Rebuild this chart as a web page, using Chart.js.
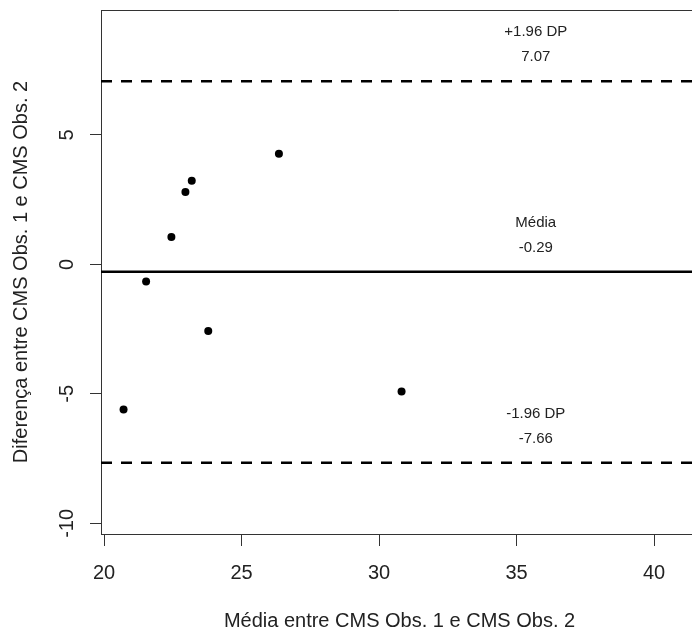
<!DOCTYPE html>
<html>
<head>
<meta charset="utf-8">
<script src="https://cdn.jsdelivr.net/npm/chart.js@4/dist/chart.umd.min.js"></script>
<style>
  html, body { margin: 0; padding: 0; background: #ffffff; overflow: hidden; }
  #wrap { width: 702px; height: 636px; }
</style>
</head>
<body>
<div id="wrap"><canvas id="c" width="702" height="636"></canvas></div>
<script>
// ---- data ----
const meanValues = [21.53, 22.45, 22.96, 23.19, 26.36, 23.79, 20.71, 30.82];
const diffValues = [-0.66, 1.06, 2.79, 3.23, 4.27, -2.57, -5.60, -4.91];
const limitNames = ['+1.96 DP', 'Média', '-1.96 DP'];
const limitValues = [7.07, -0.29, -7.66];
const limitTexts = ['7.07', '-0.29', '-7.66'];
const xTickValues = [20, 25, 30, 35, 40];
const yTickValues = [-10, -5, 0, 5];
const xRange = [19.89, 41.6];
const yRange = [-10.41, 9.82];
const labelX = 35.7;

const FONT = '"Liberation Sans", Arial, sans-serif';

const points = meanValues.map((m, i) => ({ x: m, y: diffValues[i] }));
const lineData = v => [{ x: xRange[0], y: v }, { x: xRange[1], y: v }];

const boxPlugin = {
  id: 'box',
  afterDraw(chart) {
    const { ctx, chartArea } = chart;
    ctx.save();
    ctx.strokeStyle = '#333333';
    ctx.lineWidth = 1;
    ctx.beginPath();
    ctx.moveTo(chartArea.left, chartArea.top + 0.5);
    ctx.lineTo(chartArea.right, chartArea.top + 0.5);
    ctx.stroke();
    // labels for the lines
    const xs = chart.scales.x, ys = chart.scales.y;
    ctx.fillStyle = '#222222';
    ctx.font = '15px ' + FONT;
    ctx.textAlign = 'center';
    ctx.textBaseline = 'middle';
    limitValues.forEach((v, i) => {
      const px = xs.getPixelForValue(labelX);
      ctx.fillText(limitNames[i], px, ys.getPixelForValue(v + 1.89));
      ctx.fillText(limitTexts[i], px, ys.getPixelForValue(v + 0.93));
    });
    ctx.restore();
  }
};

new Chart(document.getElementById('c'), {
  type: 'scatter',
  data: {
    datasets: [
      {
        type: 'line', data: lineData(limitValues[0]), borderColor: '#000000',
        borderWidth: 2.5, borderDash: [11, 9], pointRadius: 0, fill: false
      },
      {
        type: 'line', data: lineData(limitValues[1]), borderColor: '#000000',
        borderWidth: 2.5, pointRadius: 0, fill: false
      },
      {
        type: 'line', data: lineData(limitValues[2]), borderColor: '#000000',
        borderWidth: 2.5, borderDash: [11, 9], pointRadius: 0, fill: false
      },
      {
        type: 'scatter', data: points, pointRadius: 4, pointBackgroundColor: '#000000',
        pointBorderWidth: 0, borderColor: '#000000'
      }
    ]
  },
  options: {
    responsive: false,
    animation: false,
    devicePixelRatio: 1,
    layout: { padding: { top: 10, right: 3, left: 0, bottom: 0 } },
    plugins: { legend: { display: false }, tooltip: { enabled: false } },
    scales: {
      x: {
        type: 'linear', min: xRange[0], max: xRange[1],
        afterBuildTicks: s => { s.ticks = xTickValues.map(v => ({ value: v })); },
        afterFit: s => { s.height = 102; s.paddingLeft = 0; s.paddingRight = 0; },
        grid: { drawOnChartArea: false, drawTicks: true, tickLength: 12, color: '#333333', lineWidth: 1 },
        border: { display: true, color: '#333333', width: 1 },
        ticks: { autoSkip: false, padding: 15, color: '#222222', font: { family: FONT, size: 20 } },
        title: { display: true, text: 'Média entre CMS Obs. 1 e CMS Obs. 2', color: '#222222',
                 font: { family: FONT, size: 20 }, padding: { top: 0, bottom: 3 } }
      },
      y: {
        type: 'linear', min: yRange[0], max: yRange[1],
        afterBuildTicks: s => { s.ticks = yTickValues.map(v => ({ value: v })); },
        afterFit: s => { s.width = 101; s.paddingTop = 0; s.paddingBottom = 0; },
        grid: { drawOnChartArea: false, drawTicks: true, tickLength: 11, color: '#333333', lineWidth: 1 },
        border: { display: true, color: '#333333', width: 1 },
        ticks: { autoSkip: false, minRotation: 90, maxRotation: 90, crossAlign: 'center', padding: 8,
                 color: '#222222', font: { family: FONT, size: 20 } },
        title: { display: true, text: 'Diferença entre CMS Obs. 1 e CMS Obs. 2', color: '#222222',
                 font: { family: FONT, size: 20 }, padding: { top: 9, bottom: 0 } }
      }
    }
  },
  plugins: [boxPlugin]
});
</script>
</body>
</html>
